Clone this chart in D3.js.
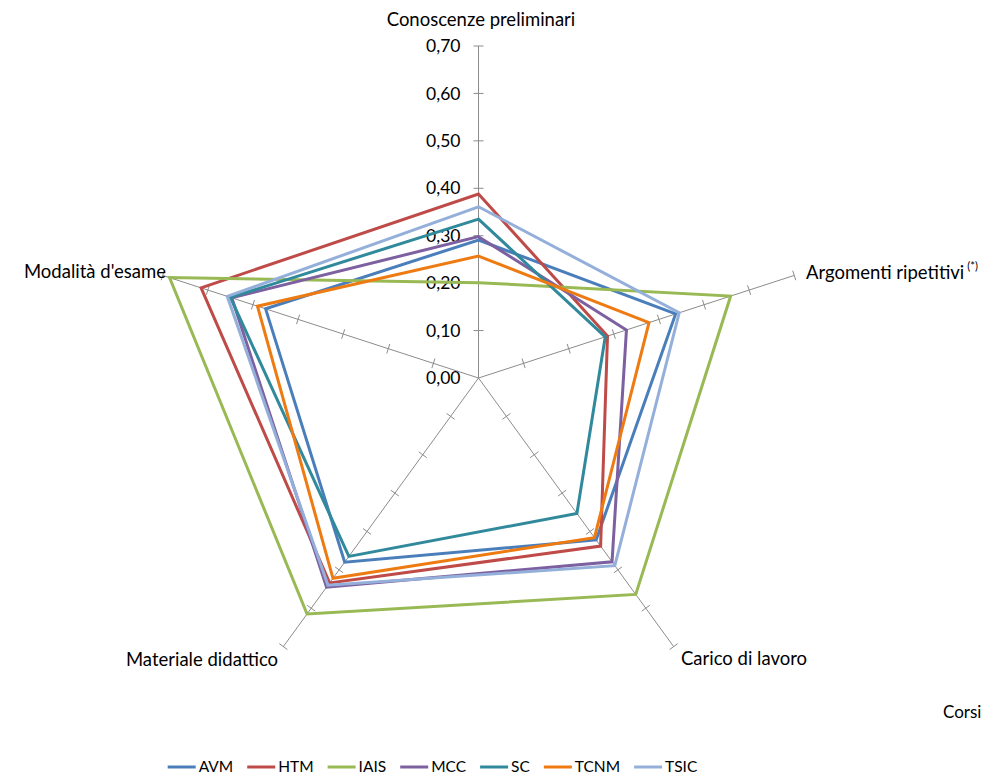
<!DOCTYPE html>
<html>
<head>
<meta charset="utf-8">
<script src="https://cdn.jsdelivr.net/npm/d3@7"></script>
<style>
  html, body { margin: 0; padding: 0; background: #fff; }
  svg { display: block; font-family: Lato, "Open Sans", sans-serif; }
</style>
</head>
<body>
<svg id="chart" width="982" height="776"></svg>
<script>
// ---- data ----
const axesNames = ["Conoscenze preliminari", "Argomenti ripetitivi", "Carico di lavoro", "Materiale didattico", "Modalità d'esame"];
const tickValues = [0, 0.1, 0.2, 0.3, 0.4, 0.5, 0.6, 0.7];
const seriesNames = ["AVM", "HTM", "IAIS", "MCC", "SC", "TCNM", "TSIC"];
const AVM  = [0.291, 0.437, 0.422, 0.480, 0.472];
const HTM  = [0.388, 0.286, 0.438, 0.534, 0.615];
const IAIS = [0.201, 0.559, 0.564, 0.615, 0.685];
const MCC  = [0.298, 0.328, 0.479, 0.545, 0.547];
const SC   = [0.335, 0.281, 0.353, 0.465, 0.550];
const TCNM = [0.257, 0.378, 0.416, 0.522, 0.490];
const TSIC = [0.361, 0.445, 0.489, 0.540, 0.557];
const seriesValues = [AVM, HTM, IAIS, MCC, SC, TCNM, TSIC];
const colors = ["#4A7EBB", "#BE4B48", "#98B954", "#7D60A0", "#31899C", "#EE7A12", "#94B0DA"];

// ---- layout ----
const svg = d3.select("#chart");
const cx = 478.5, cy = 378;
const r = d3.scaleLinear().domain([0, 0.7]).range([0, 332]);
const angle = d3.scalePoint().domain(d3.range(axesNames.length)).range([0, 2 * Math.PI * (axesNames.length - 1) / axesNames.length]);
const fmt = v => d3.format(".2f")(v).replace(".", ",");
const pt = (i, v) => [cx + r(v) * Math.sin(angle(i)), cy - r(v) * Math.cos(angle(i))];

const g = svg.append("g");

// spokes
axesNames.forEach((name, i) => {
  const [x2, y2] = pt(i, 0.7);
  g.append("line").attr("x1", cx).attr("y1", cy).attr("x2", x2).attr("y2", y2)
    .attr("stroke", "#8C8C8C").attr("stroke-width", 1);
  const a = angle(i);
  const px = Math.cos(a), py = Math.sin(a);
  tickValues.slice(1).forEach(t => {
    const [tx, ty] = pt(i, t);
    g.append("line")
      .attr("x1", tx - 5 * px).attr("y1", ty - 5 * py)
      .attr("x2", tx + 5 * px).attr("y2", ty + 5 * py)
      .attr("stroke", "#8C8C8C").attr("stroke-width", 1);
  });
});

// tick labels on first axis
tickValues.forEach(t => {
  const [tx, ty] = pt(0, t);
  g.append("text").attr("x", tx - 18).attr("y", ty).attr("dy", "0.35em")
    .attr("text-anchor", "end").attr("font-size", 17.5).attr("fill", "#000")
    .text(fmt(t));
});

// series polygons
const line = d3.line().curve(d3.curveLinearClosed);
seriesValues.forEach((vals, s) => {
  g.append("path")
    .attr("d", line(vals.map((v, i) => pt(i, v))))
    .attr("fill", "none").attr("stroke", colors[s]).attr("stroke-width", 3)
    .attr("stroke-linejoin", "miter");
});

// axis labels
const fs = 18.5;
g.append("text").attr("x", 481).attr("y", 20).attr("dy", "0.35em").attr("text-anchor", "middle")
  .attr("font-size", fs).text(axesNames[0]);
const t1 = g.append("text").attr("x", 806).attr("y", 273).attr("dy", "0.35em").attr("text-anchor", "start")
  .attr("font-size", fs);
t1.append("tspan").text(axesNames[1]);
t1.append("tspan").attr("font-size", 11).attr("dy", "-0.85em").attr("dx", 3).text("(*)");
g.append("text").attr("x", 744).attr("y", 659).attr("dy", "0.35em").attr("text-anchor", "middle")
  .attr("font-size", fs).text(axesNames[2]);
g.append("text").attr("x", 202).attr("y", 660).attr("dy", "0.35em").attr("text-anchor", "middle")
  .attr("font-size", fs).text(axesNames[3]);
g.append("text").attr("x", 166).attr("y", 272).attr("dy", "0.35em").attr("text-anchor", "end")
  .attr("font-size", fs).text(axesNames[4]);
g.append("text").attr("x", 943).attr("y", 712).attr("dy", "0.35em").attr("text-anchor", "start")
  .attr("font-size", 17).text("Corsi");

// legend
const legend = svg.append("g");
let xPos = 0;
seriesNames.forEach((name, s) => {
  const it = legend.append("g");
  it.append("line").attr("x1", 0).attr("x2", 28).attr("y1", 0).attr("y2", 0)
    .attr("stroke", colors[s]).attr("stroke-width", 3);
  const tx = it.append("text").attr("x", 31).attr("y", 0).attr("dy", "0.35em")
    .attr("font-size", 15.5).text(name);
  const w = 31 + tx.node().getComputedTextLength();
  it.attr("transform", `translate(${xPos},0)`);
  xPos += w + 14;
});
const totalW = xPos - 14;
legend.attr("transform", `translate(${432.5 - totalW / 2},767)`);
</script>
</body>
</html>
